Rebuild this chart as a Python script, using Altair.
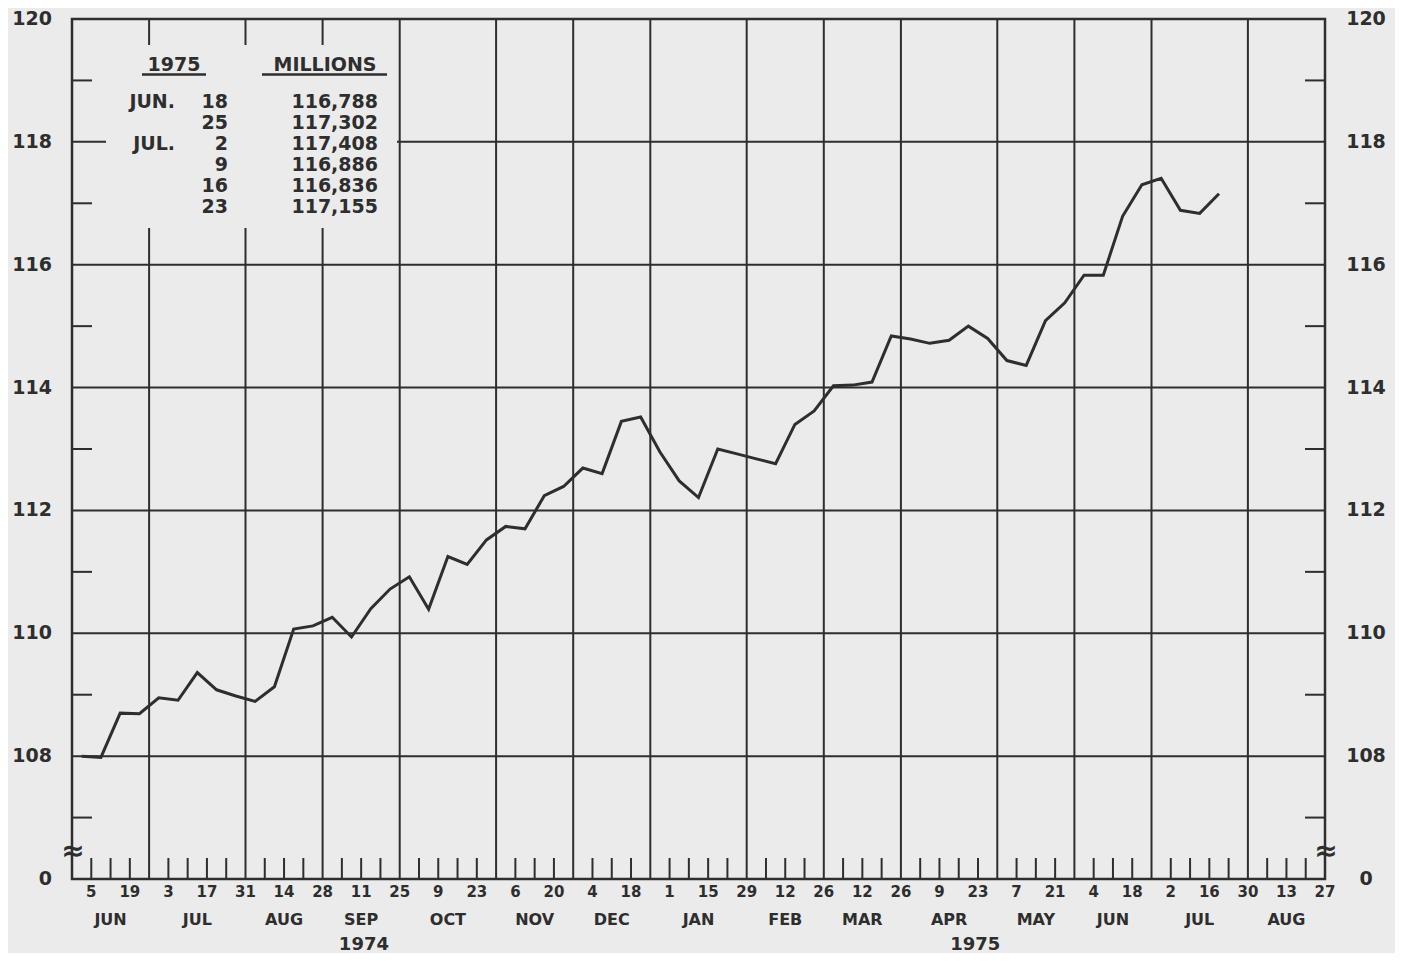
import altair as alt
import pandas as pd

# ---------------- data ----------------
first_week = "1974-06-05"          # first weekly observation (Wednesday)
axis_origin = "1974-05-29"         # left edge of the frame
# weekly money stock, billions of dollars
money_stock = [
    108.00, 107.98, 108.70, 108.69, 108.95, 108.91, 109.36, 109.08, 108.98, 108.89,
    109.13, 110.07, 110.12, 110.26, 109.94, 110.40, 110.72, 110.92, 110.39, 111.25,
    111.12, 111.52, 111.74, 111.70, 112.24, 112.39, 112.69, 112.60, 113.45, 113.52,
    112.95, 112.48, 112.21, 113.00, 112.92, 112.84, 112.76, 113.40, 113.62, 114.03,
    114.04, 114.09, 114.84, 114.79, 114.72, 114.77, 115.00, 114.80, 114.44, 114.36,
    115.09, 115.38, 115.83, 115.83,
]
# the inset table (1975, millions)
table_months = ["JUN.", "", "JUL.", "", "", ""]
table_days = ["18", "25", "2", "9", "16", "23"]
table_values = ["116,788", "117,302", "117,408", "116,886", "116,836", "117,155"]
money_stock = money_stock + [float(v.replace(",", "")) / 1000 for v in table_values]

# last Wednesday of each month = month boundaries on the chart
month_bounds = ["1974-05-29", "1974-06-26", "1974-07-31", "1974-08-28", "1974-09-25",
                "1974-10-30", "1974-11-27", "1974-12-25", "1975-01-29", "1975-02-26",
                "1975-03-26", "1975-04-30", "1975-05-28", "1975-06-25", "1975-07-30",
                "1975-08-27"]
month_names = ["JUN", "JUL", "AUG", "SEP", "OCT", "NOV", "DEC", "JAN", "FEB", "MAR",
               "APR", "MAY", "JUN", "JUL", "AUG"]
day_labels = ["5", "19", "3", "17", "31", "14", "28", "11", "25", "9", "23", "6", "20",
              "4", "18", "1", "15", "29", "12", "26", "12", "26", "9", "23", "7", "21",
              "4", "18", "2", "16", "30", "13", "27"]
year_labels = ["1974", "1975"]
year_pos_dates = ["1974-09-12", "1975-04-22"]
y_grid = [108, 110, 112, 114, 116, 118]
y_minor = [107, 109, 111, 113, 115, 117, 119]
y_label_vals = [106, 108, 110, 112, 114, 116, 118, 120]
y_label_text = ["0", "108", "110", "112", "114", "116", "118", "120"]

# ---------------- helpers ----------------
org = pd.Timestamp(axis_origin)
def wk(d):
    return (pd.Timestamp(d) - org).days / 7.0

dates = pd.date_range(first_week, periods=len(money_stock), freq="7D")
line_df = pd.DataFrame({"date": dates.strftime("%Y-%m-%d"),
                        "value": money_stock})
line_df["week"] = [wk(d) - 0.5 for d in line_df["date"]]   # plotted mid-week

bound_w = [wk(d) for d in month_bounds]
grid_w = bound_w[1:-1]
n_weeks = int(round(bound_w[-1]))
tick_w = [w for w in range(1, n_weeks) if w not in grid_w]
month_df = pd.DataFrame({"name": month_names,
                         "week": [(a + b) / 2 for a, b in zip(bound_w[:-1], bound_w[1:])]})
day_df = pd.DataFrame({"label": day_labels,
                       "week": list(range(1, n_weeks + 1, 2))})
year_df = pd.DataFrame({"label": year_labels, "week": [wk(d) for d in year_pos_dates]})

W, H = 1253, 860
TOP = 11
BG = "#ebebeb"
INK = "#2e2e2e"
FONT = "DejaVu Sans"

xs = alt.Scale(domain=[0, n_weeks], nice=False, zero=False)
ys = alt.Scale(domain=[106, 120], nice=False, zero=False)
one = pd.DataFrame({"a": [0]})

def X(f="week"):
    return alt.X(f"{f}:Q", scale=xs, axis=None)

def Y(f="v"):
    return alt.Y(f"{f}:Q", scale=ys, axis=None)

hgrid = alt.Chart(pd.DataFrame({"v": y_grid})).mark_rule(color=INK, strokeWidth=2).encode(
    y=Y(), x=alt.value(0), x2=alt.value(W))
vgrid = alt.Chart(pd.DataFrame({"week": grid_w})).mark_rule(color=INK, strokeWidth=2).encode(
    x=X(), y=alt.value(0), y2=alt.value(H))
lminor = alt.Chart(pd.DataFrame({"v": y_minor})).mark_rule(color=INK, strokeWidth=2).encode(
    y=Y(), x=alt.value(0), x2=alt.value(20))
rminor = alt.Chart(pd.DataFrame({"v": y_minor})).mark_rule(color=INK, strokeWidth=2).encode(
    y=Y(), x=alt.value(W - 20), x2=alt.value(W))
bticks = alt.Chart(pd.DataFrame({"week": tick_w})).mark_rule(color=INK, strokeWidth=2).encode(
    x=X(), y=alt.value(H - 21), y2=alt.value(H))

# blank panel behind the inset table (grid hidden there)
cover = alt.Chart(one).mark_rect(color=BG).encode(
    x=alt.value(34), x2=alt.value(325), y=alt.value(26), y2=alt.value(209))

line = alt.Chart(line_df).mark_line(color=INK, strokeWidth=3).encode(
    x=X(), y=Y("value"))

ylab_df = pd.DataFrame({"v": y_label_vals, "t": y_label_text})
ylab_l = alt.Chart(ylab_df).mark_text(font=FONT, fontWeight="bold", fontSize=19, color=INK,
                                      align="right", baseline="middle").encode(
    y=Y(), x=alt.value(-20), text="t:N")
ylab_r = alt.Chart(ylab_df).mark_text(font=FONT, fontWeight="bold", fontSize=19, color=INK,
                                      align="center", baseline="middle").encode(
    y=Y(), x=alt.value(W + 41), text="t:N")

dlab = alt.Chart(day_df).mark_text(font=FONT, fontWeight="bold", fontSize=15, color=INK,
                                   baseline="middle").encode(
    x=X(), y=alt.value(H + 13), text="label:N")
mlab = alt.Chart(month_df).mark_text(font=FONT, fontWeight="bold", fontSize=16, color=INK,
                                     baseline="middle").encode(
    x=X(), y=alt.value(H + 41), text="name:N")
ylab = alt.Chart(year_df).mark_text(font=FONT, fontWeight="bold", fontSize=18, color=INK,
                                    baseline="middle").encode(
    x=X(), y=alt.value(H + 66), text="label:N")

brk_l = alt.Chart(one).mark_text(font=FONT, fontWeight="bold", fontSize=28, color=INK,
                                 baseline="middle").encode(
    x=alt.value(1), y=alt.value(H - 27), text=alt.value("≈"))
brk_r = alt.Chart(one).mark_text(font=FONT, fontWeight="bold", fontSize=28, color=INK,
                                 baseline="middle").encode(
    x=alt.value(W + 1), y=alt.value(H - 27), text=alt.value("≈"))

ROW0, ROWH = 89, 21
tfont = dict(font=FONT, fontWeight="bold", fontSize=19, color=INK, lineHeight=ROWH,
             baseline="alphabetic")
hdr1 = alt.Chart(one).mark_text(align="center", **tfont).encode(
    x=alt.value(102), y=alt.value(52), text=alt.value("1975"))
hdr2 = alt.Chart(one).mark_text(align="center", **tfont).encode(
    x=alt.value(253), y=alt.value(52), text=alt.value("MILLIONS"))
ul1 = alt.Chart(one).mark_rule(color=INK, strokeWidth=2.5).encode(
    x=alt.value(70), x2=alt.value(134), y=alt.value(55.5))
ul2 = alt.Chart(one).mark_rule(color=INK, strokeWidth=2.5).encode(
    x=alt.value(190), x2=alt.value(315), y=alt.value(55.5))
month_marks = [
    alt.Chart(one).mark_text(align="right", **tfont).encode(
        x=alt.value(103), y=alt.value(ROW0 + ROWH * i), text=alt.value(m))
    for i, m in enumerate(table_months) if m
]
col_d = alt.Chart(one).mark_text(align="right", **tfont).encode(
    x=alt.value(156), y=alt.value(ROW0), text=alt.value(table_days))
col_v = alt.Chart(one).mark_text(align="right", **tfont).encode(
    x=alt.value(306), y=alt.value(ROW0), text=alt.value(table_values))

chart = alt.layer(
    hgrid, vgrid, lminor, rminor, bticks, cover, line,
    ylab_l, ylab_r, dlab, mlab, ylab, brk_l, brk_r,
    hdr1, hdr2, ul1, ul2, *month_marks, col_d, col_v,
).properties(
    width=W, height=H, background=BG,
    padding={"left": 64, "top": TOP, "right": 70, "bottom": 74},
    autosize=alt.AutoSizeParams(type="none"),
).configure_view(stroke=INK, strokeWidth=2.5)

chart.save("out.html", embed_options={"renderer": "svg", "actions": False})
